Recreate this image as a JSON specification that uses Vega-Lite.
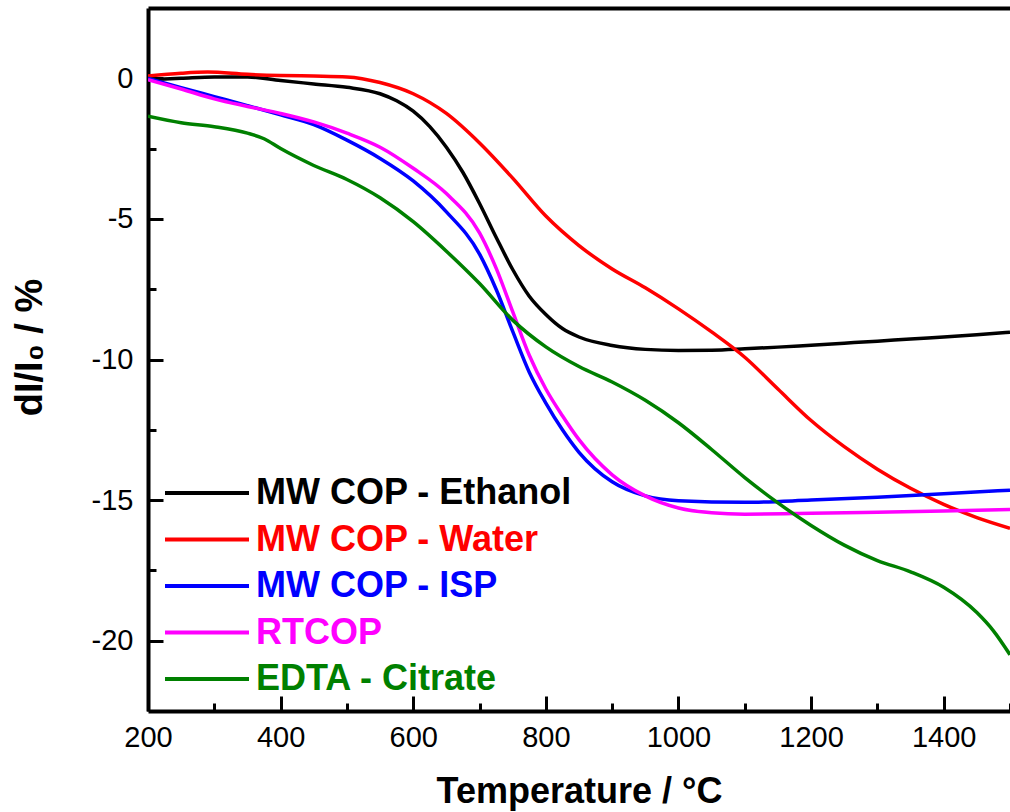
{
  "$schema": "https://vega.github.io/schema/vega-lite/v6.json",
  "width": 862,
  "height": 703,
  "autosize": "none",
  "padding": {"left": 148, "top": 8, "right": 0, "bottom": 101},
  "background": "white",
  "config": {
    "view": {"stroke": null},
    "font": "Liberation Sans",
    "axis": {
      "grid": false,
      "domainColor": "black",
      "domainWidth": 4,
      "tickColor": "black",
      "tickWidth": 3,
      "labelColor": "black",
      "labelFont": "Liberation Sans",
      "labelFontSize": 29,
      "labelFlush": false,
      "labelBound": false,
      "labelOverlap": false,
      "titleFont": "Liberation Sans",
      "titleFontSize": 36,
      "titleFontWeight": "bold",
      "titleColor": "black"
    }
  },
  "datasets": {
    "curves": [
      {"s": "MW COP - Ethanol", "T": 200, "v": -0.05},
      {"s": "MW COP - Ethanol", "T": 250, "v": 0.0},
      {"s": "MW COP - Ethanol", "T": 300, "v": 0.05},
      {"s": "MW COP - Ethanol", "T": 350, "v": 0.05},
      {"s": "MW COP - Ethanol", "T": 400, "v": -0.08},
      {"s": "MW COP - Ethanol", "T": 450, "v": -0.2},
      {"s": "MW COP - Ethanol", "T": 500, "v": -0.32},
      {"s": "MW COP - Ethanol", "T": 550, "v": -0.55},
      {"s": "MW COP - Ethanol", "T": 575, "v": -0.8},
      {"s": "MW COP - Ethanol", "T": 600, "v": -1.17},
      {"s": "MW COP - Ethanol", "T": 625, "v": -1.72},
      {"s": "MW COP - Ethanol", "T": 650, "v": -2.45},
      {"s": "MW COP - Ethanol", "T": 675, "v": -3.35},
      {"s": "MW COP - Ethanol", "T": 700, "v": -4.45},
      {"s": "MW COP - Ethanol", "T": 725, "v": -5.65},
      {"s": "MW COP - Ethanol", "T": 750, "v": -6.8},
      {"s": "MW COP - Ethanol", "T": 775, "v": -7.75},
      {"s": "MW COP - Ethanol", "T": 800, "v": -8.4},
      {"s": "MW COP - Ethanol", "T": 825, "v": -8.9},
      {"s": "MW COP - Ethanol", "T": 850, "v": -9.2},
      {"s": "MW COP - Ethanol", "T": 900, "v": -9.5},
      {"s": "MW COP - Ethanol", "T": 950, "v": -9.64},
      {"s": "MW COP - Ethanol", "T": 1000, "v": -9.68},
      {"s": "MW COP - Ethanol", "T": 1050, "v": -9.67},
      {"s": "MW COP - Ethanol", "T": 1100, "v": -9.62},
      {"s": "MW COP - Ethanol", "T": 1150, "v": -9.56},
      {"s": "MW COP - Ethanol", "T": 1200, "v": -9.49},
      {"s": "MW COP - Ethanol", "T": 1250, "v": -9.42},
      {"s": "MW COP - Ethanol", "T": 1300, "v": -9.35},
      {"s": "MW COP - Ethanol", "T": 1350, "v": -9.27},
      {"s": "MW COP - Ethanol", "T": 1400, "v": -9.2},
      {"s": "MW COP - Ethanol", "T": 1450, "v": -9.12},
      {"s": "MW COP - Ethanol", "T": 1500, "v": -9.03},

      {"s": "MW COP - Water", "T": 200, "v": 0.08},
      {"s": "MW COP - Water", "T": 250, "v": 0.18},
      {"s": "MW COP - Water", "T": 290, "v": 0.22},
      {"s": "MW COP - Water", "T": 350, "v": 0.14},
      {"s": "MW COP - Water", "T": 400, "v": 0.1},
      {"s": "MW COP - Water", "T": 450, "v": 0.08},
      {"s": "MW COP - Water", "T": 500, "v": 0.05},
      {"s": "MW COP - Water", "T": 550, "v": -0.15},
      {"s": "MW COP - Water", "T": 600, "v": -0.55},
      {"s": "MW COP - Water", "T": 650, "v": -1.25},
      {"s": "MW COP - Water", "T": 700, "v": -2.3},
      {"s": "MW COP - Water", "T": 750, "v": -3.55},
      {"s": "MW COP - Water", "T": 800, "v": -4.9},
      {"s": "MW COP - Water", "T": 850, "v": -5.95},
      {"s": "MW COP - Water", "T": 900, "v": -6.78},
      {"s": "MW COP - Water", "T": 950, "v": -7.45},
      {"s": "MW COP - Water", "T": 1000, "v": -8.2},
      {"s": "MW COP - Water", "T": 1050, "v": -9.02},
      {"s": "MW COP - Water", "T": 1100, "v": -9.92},
      {"s": "MW COP - Water", "T": 1150, "v": -11.05},
      {"s": "MW COP - Water", "T": 1200, "v": -12.17},
      {"s": "MW COP - Water", "T": 1250, "v": -13.1},
      {"s": "MW COP - Water", "T": 1300, "v": -13.9},
      {"s": "MW COP - Water", "T": 1350, "v": -14.58},
      {"s": "MW COP - Water", "T": 1400, "v": -15.15},
      {"s": "MW COP - Water", "T": 1450, "v": -15.62},
      {"s": "MW COP - Water", "T": 1500, "v": -16.0},

      {"s": "MW COP - ISP", "T": 200, "v": 0.0},
      {"s": "MW COP - ISP", "T": 250, "v": -0.33},
      {"s": "MW COP - ISP", "T": 300, "v": -0.65},
      {"s": "MW COP - ISP", "T": 350, "v": -0.97},
      {"s": "MW COP - ISP", "T": 400, "v": -1.3},
      {"s": "MW COP - ISP", "T": 450, "v": -1.65},
      {"s": "MW COP - ISP", "T": 500, "v": -2.2},
      {"s": "MW COP - ISP", "T": 550, "v": -2.85},
      {"s": "MW COP - ISP", "T": 600, "v": -3.65},
      {"s": "MW COP - ISP", "T": 650, "v": -4.75},
      {"s": "MW COP - ISP", "T": 700, "v": -6.25},
      {"s": "MW COP - ISP", "T": 725, "v": -7.5},
      {"s": "MW COP - ISP", "T": 750, "v": -9.0},
      {"s": "MW COP - ISP", "T": 775, "v": -10.45},
      {"s": "MW COP - ISP", "T": 800, "v": -11.55},
      {"s": "MW COP - ISP", "T": 825, "v": -12.5},
      {"s": "MW COP - ISP", "T": 850, "v": -13.3},
      {"s": "MW COP - ISP", "T": 900, "v": -14.35},
      {"s": "MW COP - ISP", "T": 950, "v": -14.85},
      {"s": "MW COP - ISP", "T": 1000, "v": -15.02},
      {"s": "MW COP - ISP", "T": 1100, "v": -15.08},
      {"s": "MW COP - ISP", "T": 1200, "v": -15.0},
      {"s": "MW COP - ISP", "T": 1300, "v": -14.9},
      {"s": "MW COP - ISP", "T": 1400, "v": -14.77},
      {"s": "MW COP - ISP", "T": 1500, "v": -14.65},

      {"s": "RTCOP", "T": 200, "v": -0.05},
      {"s": "RTCOP", "T": 250, "v": -0.38},
      {"s": "RTCOP", "T": 300, "v": -0.73},
      {"s": "RTCOP", "T": 350, "v": -1.0},
      {"s": "RTCOP", "T": 400, "v": -1.25},
      {"s": "RTCOP", "T": 450, "v": -1.55},
      {"s": "RTCOP", "T": 500, "v": -1.95},
      {"s": "RTCOP", "T": 550, "v": -2.45},
      {"s": "RTCOP", "T": 600, "v": -3.2},
      {"s": "RTCOP", "T": 650, "v": -4.1},
      {"s": "RTCOP", "T": 700, "v": -5.5},
      {"s": "RTCOP", "T": 725, "v": -6.75},
      {"s": "RTCOP", "T": 750, "v": -8.3},
      {"s": "RTCOP", "T": 775, "v": -9.85},
      {"s": "RTCOP", "T": 800, "v": -11.05},
      {"s": "RTCOP", "T": 825, "v": -12.0},
      {"s": "RTCOP", "T": 850, "v": -12.85},
      {"s": "RTCOP", "T": 900, "v": -14.1},
      {"s": "RTCOP", "T": 950, "v": -14.85},
      {"s": "RTCOP", "T": 1000, "v": -15.28},
      {"s": "RTCOP", "T": 1050, "v": -15.45},
      {"s": "RTCOP", "T": 1100, "v": -15.5},
      {"s": "RTCOP", "T": 1200, "v": -15.47},
      {"s": "RTCOP", "T": 1300, "v": -15.43},
      {"s": "RTCOP", "T": 1400, "v": -15.39},
      {"s": "RTCOP", "T": 1500, "v": -15.33},

      {"s": "EDTA - Citrate", "T": 200, "v": -1.35},
      {"s": "EDTA - Citrate", "T": 250, "v": -1.58},
      {"s": "EDTA - Citrate", "T": 300, "v": -1.72},
      {"s": "EDTA - Citrate", "T": 350, "v": -1.95},
      {"s": "EDTA - Citrate", "T": 375, "v": -2.15},
      {"s": "EDTA - Citrate", "T": 400, "v": -2.5},
      {"s": "EDTA - Citrate", "T": 450, "v": -3.1},
      {"s": "EDTA - Citrate", "T": 500, "v": -3.6},
      {"s": "EDTA - Citrate", "T": 550, "v": -4.25},
      {"s": "EDTA - Citrate", "T": 600, "v": -5.1},
      {"s": "EDTA - Citrate", "T": 650, "v": -6.15},
      {"s": "EDTA - Citrate", "T": 700, "v": -7.3},
      {"s": "EDTA - Citrate", "T": 750, "v": -8.6},
      {"s": "EDTA - Citrate", "T": 800, "v": -9.55},
      {"s": "EDTA - Citrate", "T": 850, "v": -10.25},
      {"s": "EDTA - Citrate", "T": 900, "v": -10.8},
      {"s": "EDTA - Citrate", "T": 950, "v": -11.45},
      {"s": "EDTA - Citrate", "T": 1000, "v": -12.25},
      {"s": "EDTA - Citrate", "T": 1050, "v": -13.2},
      {"s": "EDTA - Citrate", "T": 1100, "v": -14.2},
      {"s": "EDTA - Citrate", "T": 1150, "v": -15.1},
      {"s": "EDTA - Citrate", "T": 1200, "v": -15.9},
      {"s": "EDTA - Citrate", "T": 1250, "v": -16.6},
      {"s": "EDTA - Citrate", "T": 1300, "v": -17.15},
      {"s": "EDTA - Citrate", "T": 1350, "v": -17.55},
      {"s": "EDTA - Citrate", "T": 1400, "v": -18.1},
      {"s": "EDTA - Citrate", "T": 1450, "v": -19.0},
      {"s": "EDTA - Citrate", "T": 1475, "v": -19.65},
      {"s": "EDTA - Citrate", "T": 1500, "v": -20.5}
    ]
  },
  "data": {"name": "curves"},
  "layer": [
    {
      "mark": {"type": "line", "strokeWidth": 3.5, "interpolate": "monotone", "clip": true},
      "encoding": {
        "x": {
          "field": "T", "type": "quantitative",
          "scale": {"domain": [200, 1500], "nice": false, "zero": false},
          "axis": {
            "orient": "bottom",
            "title": "Temperature / °C",
            "values": [200, 300, 400, 500, 600, 700, 800, 900, 1000, 1100, 1200, 1300, 1400, 1500],
            "labelExpr": "datum.value % 200 === 0 ? '' + datum.value : ''",
            "tickSize": -8,
            "labelPadding": 20,
            "titlePadding": 22
          }
        },
        "y": {
          "field": "v", "type": "quantitative",
          "scale": {"domain": [-22.5, 2.5], "nice": false, "zero": false},
          "axis": {
            "orient": "left",
            "title": "dI/I₀ / %",
            "titleFontSize": 38,
            "values": [0, -2.5, -5, -7.5, -10, -12.5, -15, -17.5, -20],
            "labelExpr": "datum.value % 5 === 0 ? '' + datum.value : ''",
            "tickSize": -8,
            "labelPadding": 23,
            "titlePadding": 42,
            "titleY": 339
          }
        },
        "color": {
          "field": "s", "type": "nominal",
          "scale": {
            "domain": ["MW COP - Ethanol", "MW COP - Water", "MW COP - ISP", "RTCOP", "EDTA - Citrate"],
            "range": ["#000000", "#ff0000", "#0000ff", "#ff00ff", "#008000"]
          },
          "legend": {
            "orient": "none",
            "legendX": 15,
            "legendY": 470,
            "title": null,
            "padding": 0,
            "symbolType": "stroke",
            "symbolSize": 7056,
            "symbolStrokeWidth": 4,
            "clipHeight": 30,
            "rowPadding": 10.5,
            "labelFont": "Liberation Sans",
            "labelFontSize": 36,
            "labelFontWeight": "bold",
            "labelOffset": 5,
            "labelLimit": 0,
            "encode": {"labels": {"update": {"fill": {"scale": "color", "field": "value"}}}}
          }
        }
      }
    },
    {
      "mark": {"type": "point", "opacity": 0},
      "encoding": {
        "x": {
          "field": "T", "type": "quantitative",
          "axis": {"orient": "bottom", "offset": -7, "title": null, "labels": false, "domain": false, "values": [200, 400, 600, 800, 1000, 1200, 1400], "tickSize": -8}
        },
        "y": {
          "field": "v", "type": "quantitative",
          "axis": {"orient": "left", "offset": -7, "title": null, "labels": false, "domain": false, "values": [0, -5, -10, -15, -20], "tickSize": -8}
        }
      }
    },
    {
      "mark": {"type": "point", "opacity": 0},
      "encoding": {
        "x": {
          "field": "T", "type": "quantitative",
          "axis": {"orient": "top", "title": null, "labels": false, "ticks": false, "domain": true}
        },
        "y": {"field": "v", "type": "quantitative", "axis": null}
      }
    }
  ],
  "resolve": {"axis": {"x": "independent", "y": "independent"}}
}
